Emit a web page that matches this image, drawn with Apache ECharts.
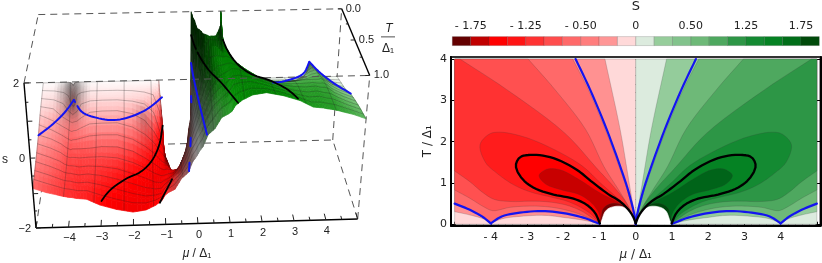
<!DOCTYPE html>
<html><head><meta charset="utf-8">
<style>html,body{margin:0;padding:0;background:#fff}#c{width:822px;height:263px}</style>
<script src="https://cdn.jsdelivr.net/npm/echarts@6/dist/echarts.min.js"></script>
</head><body><div id="c"></div>
<script>
// ---------- values ----------
const xTicks=[-4,-3,-2,-1,0,1,2,3,4];
const yTicks=[0,1,2,3,4];
const barLabels=['','- 1.75','','','- 1.25','','','- 0.50','','','0','','','0.50','','','1.25','','','1.75',''];
const barColors=['#640000','#c00000','#ff0000','#ff1414','#ff3232','#ff4d4d','#ff6969','#ff7d7d','#ff9696','#ffd9d9',
 '#dcebde','#96cd9b','#82c38c','#6eb978','#4ea85f','#2d9646','#148a32','#058223','#006e19','#004a0a'];
// contour lines on the negative side (mu, T); the positive side is the same with mu negated
const arm25=[[0,0],[-.05,.3],[-.2,1.1],[-.43,2.29],[-.85,4]];
const low25a=[[-5,.305],[-4.58,.225],[-4.21,.13],[-4,.02]];
const low25b=[[-4,.02],[-3.7,.13],[-3.2,.19],[-2.5,.215],[-1.95,.16],[-1.4,.09],[-1,.01]];
const arm50=[[0,0],[-.04,.2],[-.22,.79],[-.46,1.4],[-.84,2.29],[-1.31,3.26],[-1.74,4]];
const blueArm=[[0,0],[-.03,.2],[-.2,.79],[-.43,1.4],[-.8,2.29],[-1.26,3.26],[-1.66,4]];
const blueLowA=[[-5,.5],[-4.58,.35],[-4.21,.17],[-4,.02]];
const blueLowB=[[-4,.02],[-3.7,.19],[-3.2,.28],[-2.6,.32],[-2,.27],[-1.45,.16],[-1,.01]];
const arm75=[[0,0],[-.15,.35],[-.45,.8],[-.88,1.4],[-1.38,2.29],[-2.23,3.26],[-2.97,4]];
const low75=[[-5,.83],[-4.58,.63],[-4.21,.43],[-3.95,.33],[-3.47,.41],[-2.92,.44],[-2.4,.42],[-1.9,.34],[-1.5,.23],[-1.2,.11],[-1,.02]];
const arm100=[[0,0],[-.25,.5],[-.55,.85],[-1.08,1.36],[-1.95,2.2],[-3.56,3.26],[-4.85,4]];
const low100=[[-5,1.29],[-4.58,1.03],[-4.21,.76],[-3.9,.6],[-3.4,.55],[-2.9,.56],[-2.4,.54],[-1.9,.46],[-1.5,.32],[-1.2,.15],[-1,.02]];
const loop125=[[0,.02],[-.25,.42],[-.55,.67],[-.95,.98],[-1.49,1.42],[-2.37,1.86],[-3.1,2.12],[-3.75,2.23],[-4.05,2.18],[-4.3,1.92],[-4.15,1.5],[-3.84,1.24],[-3.38,.96],[-2.9,.78],[-2.4,.67],[-1.9,.56],[-1.5,.4],[-1.2,.22],[-1,.02]];
const blackLoop=[[0,.02],[-.07,.18],[-.2,.35],[-.43,.55],[-.76,.73],[-1.17,1],[-1.63,1.32],[-2.27,1.6],[-2.83,1.68],[-3.2,1.62],[-3.31,1.42],[-3.17,1.14],[-2.83,.89],[-2.27,.72],[-1.72,.62],[-1.35,.47],[-1.12,.27],[-.99,.02]];
const loop175=[[-.07,.15],[-.2,.3],[-.43,.5],[-.99,.76],[-1.54,1.07],[-2.09,1.32],[-2.46,1.33],[-2.67,1.18],[-2.5,.98],[-2.09,.84],[-1.54,.71],[-1.17,.47],[-.99,.2],[-.99,.02]];
const loop200=[[-.99,.02],[-.95,.2],[-.89,.39],[-.62,.51],[-.3,.43],[-.1,.2],[0,.02]];
const dome=[[-.98,0],[-.93,.12],[-.85,.3],[-.71,.4],[-.39,.43],[-.16,.3],[-.01,.05],[0,0]];
// surface s(mu,T) for mu<=0; the positive side is the same with s negated
const muGrid=[-5,-4.6,-4.3,-4.15,-4.05,-4,-3.95,-3.85,-3.7,-3.4,-3,-2.5,-2,-1.6,-1.3,-1.1,-1,-.9,-.7,-.5,-.3,-.15,-.05,0];
const tGrid=[0,.04,.08,.15,.25,.35,.5,.65,.8,1];
const sRows=[
[0,-.03,-.06,-.12,-.2,-.29,-.49,-.62,-.73,-.85],
[0,-.04,-.08,-.16,-.27,-.48,-.62,-.76,-.86,-.98],
[0,-.07,-.13,-.25,-.53,-.64,-.77,-.88,-.98,-1.05],
[0,-.1,-.22,-.49,-.62,-.72,-.88,-.98,-1.04,-1.09],
[-.02,-.2,-.5,-.58,-.68,-.78,-.93,-1.02,-1.06,-1.11],
[-.1,-.5,-.56,-.62,-.7,-.8,-.95,-1.03,-1.07,-1.12],
[-.02,-.35,-.51,-.58,-.68,-.78,-.93,-1.03,-1.07,-1.13],
[0,-.1,-.2,-.51,-.66,-.77,-.93,-1.04,-1.1,-1.14],
[0,-.07,-.14,-.27,-.56,-.71,-.93,-1.07,-1.13,-1.17],
[0,-.05,-.1,-.2,-.4,-.6,-.92,-1.05,-1.11,-1.2],
[0,-.05,-.1,-.19,-.37,-.59,-.88,-1.07,-1.18,-1.38],
[0,-.05,-.1,-.19,-.37,-.59,-.9,-1.14,-1.32,-1.52],
[0,-.06,-.12,-.23,-.47,-.74,-1.04,-1.3,-1.47,-1.61],
[0,-.08,-.17,-.3,-.68,-.97,-1.26,-1.45,-1.58,-1.56],
[0,-.12,-.25,-.54,-1.03,-1.22,-1.45,-1.59,-1.58,-1.43],
[0,-.3,-.75,-1.18,-1.37,-1.49,-1.59,-1.61,-1.55,-1.29],
[-1.36,-1.4,-1.43,-1.48,-1.52,-1.58,-1.63,-1.56,-1.4,-1.14],
[-6,-4,-3.2,-2.4,-1.93,-1.66,-1.61,-1.52,-1.32,-1.07],
[-8,-6,-5,-3.5,-2.6,-2.15,-1.65,-1.42,-1.14,-.98],
[-8,-7,-6,-4,-2.8,-2.2,-1.61,-1.14,-1,-.68],
[-9,-8,-6,-4,-2.8,-2.05,-1.11,-.75,-.62,-.52],
[-10,-8,-6,-4,-2.5,-.75,-.56,-.42,-.25,-.2],
[-10,-6,-3,-.8,-.4,-.25,-.17,-.12,-.1,-.08],
[0,0,0,0,0,0,0,0,0,0]];
const blackLevel=-1.36, blueLevel=-.5;
// ---------- helpers ----------
const smooth=run=>{const n=run.length;if(n<3)return run.slice();const o=[];
 const L=(A,B,t0,t1,t)=>[A[0]+(B[0]-A[0])*(t-t0)/(t1-t0),A[1]+(B[1]-A[1])*(t-t0)/(t1-t0)];
 const dist=(A,B)=>Math.max(Math.pow(Math.hypot(A[0]-B[0],A[1]-B[1]),.5),1e-4);
 for(let i=0;i<n-1;i++){const b=run[i],c=run[i+1];
  const a=i>0?run[i-1]:[2*b[0]-c[0],2*b[1]-c[1]],d=i<n-2?run[i+2]:[2*c[0]-b[0],2*c[1]-b[1]];
  const t0=0,t1=t0+dist(a,b),t2=t1+dist(b,c),t3=t2+dist(c,d);
  for(let k=0;k<6;k++){const t=t1+(t2-t1)*k/6;
   const A1=L(a,b,t0,t1,t),A2=L(b,c,t1,t2,t),A3=L(c,d,t2,t3,t),B1=L(A1,A2,t0,t2,t),B2=L(A2,A3,t1,t3,t);
   o.push(L(B1,B2,t1,t2,t));}}
 o.push(run[n-1]);return o;};
const flip=run=>run.map(p=>[-p[0],p[1]]);
const polyNeg=[
 {c:[255,145,145],p:[...smooth(arm25),[-5,4],...smooth(low25a),...smooth(low25b)]},
 {c:[255,105,105],p:[...smooth(arm50),[-5,4],...smooth(blueLowA),...smooth(blueLowB)]},
 {c:[255,80,80],p:[...smooth(arm75),[-5,4],...smooth(low75)]},
 {c:[255,50,50],p:[...smooth(arm100),[-5,4],...smooth(low100)]},
 {c:[255,28,28],p:smooth(loop125)},
 {c:[255,0,0],p:smooth(blackLoop)},
 {c:[200,0,0],p:smooth(loop175)},
 {c:[120,0,0],p:smooth(loop200)},
 {c:[255,255,255],p:smooth(dome),white:1}];
const greens=[[148,204,155],[110,185,120],[78,168,95],[45,150,70],[20,138,50],[5,130,35],[0,100,25],[0,70,12],[255,255,255]];
const polys=[
 {c:[255,217,217],p:[[-5,0],[-5,4],[0,4],[0,0]]},
 {c:[220,235,222],p:[[5,0],[5,4],[0,4],[0,0]]},
 ...polyNeg,
 ...polyNeg.map((q,i)=>({c:greens[i],white:q.white,p:flip(q.p)}))];
const curves2d=[blueLowA,blueLowB,blueArm,flip(blueLowA),flip(blueLowB),flip(blueArm)];
const blackCurves=[blackLoop,flip(blackLoop)];

// ---------- surface and projection ----------
const muAll=[...muGrid,...muGrid.slice(0,-1).reverse().map(m=>-m)];
const sAll=[...sRows,...sRows.slice(0,-1).reverse().map(r=>r.map(v=>-v))];
const NC=muAll.length,NR=tGrid.length;
function project(mu,T,s){const u=(mu+5)/10,v=1-T,z=(s+2)/4,w=1+.0137*u+.131*v-.07*z;
 return [(36+326.6*u+18.29*v-13.68*z)/w,(228-6*u-61.74*v-150.8*z)/w];}
function idx(a,x){let i=0;while(i<a.length-2&&x>a[i+1])i++;return i;}
function sAt(mu,T){const c=idx(muAll,mu),r=idx(tGrid,T),a=(mu-muAll[c])/(muAll[c+1]-muAll[c]),b=(T-tGrid[r])/(tGrid[r+1]-tGrid[r]);
 return (sAll[c][r]*(1-b)+sAll[c][r+1]*b)*(1-a)+(sAll[c+1][r]*(1-b)+sAll[c+1][r+1]*b)*a;}
const rawShade=sAll.map((row,c)=>row.map((v,r)=>{
 const c0=Math.max(c-1,0),c1=Math.min(c+1,NC-1),r0=Math.max(r-1,0),r1=Math.min(r+1,NR-1);
 const am=Math.abs(muAll[c]);const wt=(am>=1&&am<=1.3)?.05:1;
 const dm=(sAll[c1][r]-sAll[c0][r])/(muAll[c1]-muAll[c0])*wt,dt=(row[r1]-row[r0])/(tGrid[r1]-tGrid[r0])*.15*wt;
 return .3+.7/(1+1.2*Math.max(0,dm*dm+dt*dt-.5));}));
// the dip near |mu|=4 is a soft halo rather than a narrow crease
const shade=rawShade.map((row,c)=>row.map((v,r)=>{
 if(Math.abs(muAll[c])<3)return v;let d=0;
 for(let i=0;i<NC;i++){if(Math.abs(muAll[i])<3)continue;for(let j=0;j<NR;j++){
  const e=Math.exp(-Math.pow((muAll[i]-muAll[c])/.22,2)-Math.pow((tGrid[j]-tGrid[r])/.1,2));d=Math.max(d,(1-rawShade[i][j])*.8*e);}}
 return 1-d;}));
function shAt(c,r,a,b){return (shade[c][r]*(1-b)+shade[c][r+1]*b)*(1-a)+(shade[c+1][r]*(1-b)+shade[c+1][r+1]*b)*a;}
const ramps={neg:[[0,255,252,252],[.25,255,212,212],[.5,255,165,165],[.9,255,92,92],[1.2,255,30,30],[1.4,255,0,0],[1.7,235,0,0],[2,215,0,0]],
 pos:[[0,252,255,252],[.25,205,232,205],[.5,145,205,145],[.85,90,180,90],[1.1,40,155,40],[1.4,5,140,5],[2,0,105,0]]};
function col(s,sh){const R=s<0?ramps.neg:ramps.pos,x=Math.min(Math.abs(s),2);let i=0;while(i<R.length-2&&x>R[i+1][0])i++;
 const f=(x-R[i][0])/(R[i+1][0]-R[i][0]),g=j=>Math.round((R[i][j]+(R[i+1][j]-R[i][j])*f)*sh);return `rgb(${g(1)},${g(2)},${g(3)})`;}
function clipS(poly,lim,sign){const o=[];for(let i=0;i<poly.length;i++){const A=poly[i],B=poly[(i+1)%poly.length],ia=sign*A[2]<=lim,ib=sign*B[2]<=lim;
 if(ia)o.push(A);if(ia!==ib){const t=(sign*lim-A[2])/(B[2]-A[2]);o.push([A[0]+(B[0]-A[0])*t,A[1]+(B[1]-A[1])*t,sign*lim]);}}return o;}
const SUB=3;
function cellGroup(c,r,api){const kids=[];
 for(let i=0;i<SUB;i++)for(let j=0;j<SUB;j++){
  const P=(a,b)=>{const m=muAll[c]+(muAll[c+1]-muAll[c])*a,t=tGrid[r]+(tGrid[r+1]-tGrid[r])*b;
   return [m,t,(sAll[c][r]*(1-b)+sAll[c][r+1]*b)*(1-a)+(sAll[c+1][r]*(1-b)+sAll[c+1][r+1]*b)*a];};
  let q=[P(i/SUB,j/SUB),P((i+1)/SUB,j/SUB),P((i+1)/SUB,(j+1)/SUB),P(i/SUB,(j+1)/SUB)];
  q=clipS(clipS(q,2,1),2,-1);if(q.length<3)continue;
  const s=q.reduce((z,p)=>z+p[2],0)/q.length,cc=col(s,shAt(c,r,(i+.5)/SUB,(j+.5)/SUB));
  kids.push({type:'polygon',shape:{points:q.map(p=>api.coord(project(p[0],p[1],p[2])))},style:{fill:cc,stroke:cc,lineWidth:.7}});
 }
 return {type:'group',children:kids};}
const cells=[];const mid=muGrid.length-1;
for(let r=0;r<NR-1;r++){for(let c=0;c<mid;c++)cells.push([c,r]);for(let c=NC-2;c>=mid;c--)cells.push([c,r]);}
function hidden(mu,T,s){const P=project(mu,T,s);
 for(let t=T+.02;t<=1;t+=.02){let m=mu,Q=project(m,t,sAt(m,t));m=Math.max(-5,Math.min(5,mu+(P[0]-Q[0])/32));
  const v=sAt(m,t);if(Math.abs(v)>2)continue;Q=project(m,t,v);if(Q[1]<P[1]-2)return true;}
 return false;}
function runs3d(pts){const out=[];let cur=[];for(const p of pts){if(p===null||hidden(p[0],p[1],p[2])){if(cur.length>1)out.push(cur);cur=[];}else cur.push(project(p[0],p[1],p[2]));}
 if(cur.length>1)out.push(cur);return out;}
function meshRuns(){const res=[];const nMu=11,nT=12;
 const mk=a=>a.map(p=>{const s=sAt(p[0],p[1]);return Math.abs(s)>2?null:[p[0],p[1],s];});
 for(let k=0;k<=nMu;k++){const m=-5+k*10/nMu,a=[];for(let t=0;t<=50;t++)a.push([m,t/50]);res.push(...runs3d(mk(a)));}
 for(let k=0;k<nT;k++){const t=k/nT,a=[];for(let i=0;i<NC-1;i++)for(let j=0;j<3;j++)a.push([muAll[i]+(muAll[i+1]-muAll[i])*j/3,t]);a.push([5,t]);res.push(...runs3d(mk(a)));}
 return res;}
function curveRuns(list,level){const out=[];for(const run of list){const sign=run.reduce((z,p)=>z+p[0],0)>0?-1:1;
 const pts=smooth(run).filter(p=>p[1]<=1).map(p=>[p[0],p[1],level*sign]);out.push(...runs3d(pts));}return out;}
const meshLines=meshRuns(),blueLines=curveRuns(curves2d,blueLevel);
const blackLines=curveRuns([blackLoop.slice(4,7),blackLoop.slice(10),flip(blackLoop.slice(0,7)),flip(blackLoop.slice(10))],blackLevel);
// box
const C={A:[-5,1,-2],B:[5,1,-2],C:[5,0,-2],D:[-5,0,-2],E:[-5,1,2],F:[-5,0,2],G:[5,1,2],H:[5,0,2]};
const backEdges=['DC','AD','BC','CH','FH','EF','BG'],frontEdges=['EG'],solidEdges=['AB','AE','GH'];
const muLabels=[-4,-3,-2,-1,0,1,2,3,4],sLabels=[-2,0,2],tLabels=[0,.5,1];
const fullCanvas={coordinateSystem:'cartesian2d',xAxisIndex:0,yAxisIndex:0,silent:true,animation:false,progressive:0,clip:false};
const LF='"Liberation Sans",Arial,sans-serif',DF='"DejaVu Sans",sans-serif';
const lineEl=(a,b,api,st)=>({type:'line',shape:{x1:api.coord(a)[0],y1:api.coord(a)[1],x2:api.coord(b)[0],y2:api.coord(b)[1]},style:st});
const P3=n=>project(C[n][0],C[n][1],C[n][2]);
const dash={stroke:'#555',lineWidth:1,lineDash:[7,5]};
const txt=(x,y,t,align,size,fam)=>({type:'text',x,y,style:{text:t,fill:'#222',font:`${size}px ${fam}`,align,verticalAlign:'middle'}});
function boxBack(p,api){if(p.dataIndex)return;return {type:'group',children:backEdges.map(e=>lineEl(P3(e[0]),P3(e[1]),api,dash))};}
function polyL(run,api,st){return {type:'polyline',shape:{points:run.map(q=>api.coord(q))},style:Object.assign({fill:'none',lineJoin:'round',lineCap:'round'},st)};}
function overlay(p,api){if(p.dataIndex)return;const kids=[];
 meshLines.forEach(r=>kids.push(polyL(r,api,{stroke:'rgba(30,30,30,.45)',lineWidth:.6})));
 frontEdges.forEach(e=>kids.push(lineEl(P3(e[0]),P3(e[1]),api,dash)));
 blueLines.forEach(r=>kids.push(polyL(r,api,{stroke:'#1414f0',lineWidth:2})));
 blackLines.forEach(r=>kids.push(polyL(r,api,{stroke:'#000',lineWidth:1.8})));
 solidEdges.forEach(e=>kids.push(lineEl(P3(e[0]),P3(e[1]),api,{stroke:'#000',lineWidth:1.4})));
 const tk=(a,b)=>kids.push(lineEl(a,b,api,{stroke:'#222',lineWidth:1}));
 for(let m=-5;m<=5;m+=.5){const maj=Number.isInteger(m);tk(project(m,1,-2),project(m,maj?.93:.96,-2));}
 for(let s=-2;s<=2;s+=.5){const maj=Number.isInteger(s);tk(project(-5,1,s),project(maj?-4.85:-4.92,1,s));}
 for(let t=0;t<=1;t+=.25){tk(project(5,t,2),project(t%.5===0?4.87:4.93,t,2));}
 muLabels.forEach(m=>{const q=api.coord(project(m,1,-2));kids.push(txt(q[0]+1,q[1]+11,(m<0?'\u2212':'')+Math.abs(m),'center',11,LF));});
 sLabels.forEach(s=>{const q=api.coord(project(-5,1,s));kids.push(txt(q[0]-5,q[1]+1,(s<0?'\u2212':'')+Math.abs(s),'right',11,LF));});
 tLabels.forEach(t=>{const q=api.coord(project(5,t,2));kids.push(txt(q[0]+4,q[1],t.toFixed(1),'left',11,LF));});
 return {type:'group',children:kids};}
// ---------- option ----------
const pmTick=v=>v<0?'- '+Math.abs(v):String(v);
const seq=(a,b,st)=>{const o=[];for(let i=0;i<=Math.round((b-a)/st);i++)o.push(+(a+i*st).toFixed(2));return o;};
const frameBase={axisLine:{show:true,onZero:false,lineStyle:{color:'#000',width:2}},splitLine:{show:false}};
const minorTicksX=seq(-5,5,.2),minorTicksY=seq(0,4,.2);
const option={animation:false,backgroundColor:'#fff',
 grid:[{left:0,top:0,width:822,height:263,show:false,outerBoundsMode:'none'},
  {left:451,top:57,width:369.5,height:168.5,show:true,borderColor:'#333',borderWidth:2,backgroundColor:'#fff',containLabel:false,outerBoundsMode:'none'},
  {left:452.3,top:36.6,width:367,height:9,outerBoundsMode:'none'}],
 xAxis:[
  {gridIndex:0,type:'value',min:0,max:822,show:false},
  {gridIndex:1,type:'value',min:-5.1,max:5.1,position:'bottom',...frameBase,
   axisTick:{show:true,inside:true,length:5,lineStyle:{color:'#000',width:1},customValues:xTicks},
   axisLabel:{customValues:xTicks,formatter:pmTick,color:'#222',fontFamily:'DejaVu Sans',fontSize:11,margin:6},
   name:'{m|\u03bc} / \u0394\u2081',nameLocation:'middle',nameGap:23,
   nameTextStyle:{fontFamily:'DejaVu Sans',fontSize:12,color:'#222',rich:{m:{fontFamily:'DejaVu Sans',fontSize:12,fontStyle:'italic',color:'#222'}}}},
  {gridIndex:1,type:'value',min:-5.1,max:5.1,position:'bottom',axisLine:{show:false},splitLine:{show:false},
   axisTick:{show:true,inside:true,length:2.5,lineStyle:{color:'#000',width:1},customValues:minorTicksX},axisLabel:{show:false}},
  {gridIndex:2,type:'value',min:0,max:20,interval:1,position:'top',axisLine:{show:false},axisTick:{show:false},splitLine:{show:false},
   axisLabel:{formatter:v=>barLabels[v]||'',color:'#222',fontFamily:'DejaVu Sans',fontSize:11,margin:5,hideOverlap:false,showMinLabel:true,showMaxLabel:true}}],
 yAxis:[
  {gridIndex:0,type:'value',min:0,max:263,inverse:true,show:false},
  {gridIndex:1,type:'value',min:-.03,max:4.05,position:'left',...frameBase,
   axisTick:{show:true,inside:true,length:5,lineStyle:{color:'#000',width:1},customValues:yTicks},
   axisLabel:{customValues:yTicks,color:'#222',fontFamily:'DejaVu Sans',fontSize:11,margin:4},
   name:'T / \u0394\u2081',nameLocation:'middle',nameGap:17,nameTextStyle:{fontFamily:'DejaVu Sans',fontSize:12,color:'#222'}},
  {gridIndex:1,type:'value',min:-.03,max:4.05,position:'left',axisLine:{show:false},splitLine:{show:false},
   axisTick:{show:true,inside:true,length:2.5,lineStyle:{color:'#000',width:1},customValues:minorTicksY},axisLabel:{show:false}},
  {gridIndex:1,type:'value',min:-.03,max:4.05,position:'right',...frameBase,
   axisTick:{show:true,inside:true,length:5,lineStyle:{color:'#000',width:1},customValues:yTicks},axisLabel:{show:false}},
  {gridIndex:1,type:'value',min:-.03,max:4.05,position:'right',axisLine:{show:false},splitLine:{show:false},
   axisTick:{show:true,inside:true,length:2.5,lineStyle:{color:'#000',width:1},customValues:minorTicksY},axisLabel:{show:false}},
  {gridIndex:2,type:'value',min:0,max:1,show:false}],
 graphic:[
  {type:'text',x:636,y:7,style:{text:'S',font:'13px "DejaVu Sans"',fill:'#222',align:'center',verticalAlign:'middle'}},
  {type:'text',x:5,y:160,style:{text:'s',font:'12px "Liberation Sans"',fill:'#222',align:'center',verticalAlign:'middle'}},
  {type:'text',x:197,y:254,style:{rich:{m:{font:'italic 12px "Liberation Sans"',fill:'#222'},n:{font:'12px "Liberation Sans"',fill:'#222'}},text:'{m|\u03bc} {n|/ \u0394\u2081}',align:'center',verticalAlign:'middle'}},
  {type:'text',x:389,y:29,style:{text:'T',font:'italic 12px "Liberation Sans"',fill:'#222',align:'center',verticalAlign:'middle'}},
  {type:'rect',shape:{x:381,y:36.5,width:14,height:.8},style:{fill:'#222'}},
  {type:'text',x:388,y:49,style:{text:'\u0394\u2081',font:'12px "Liberation Sans"',fill:'#222',align:'center',verticalAlign:'middle'}}],
 series:[
  {...fullCanvas,type:'custom',z:1,data:[[0,0]],renderItem:boxBack},
  {...fullCanvas,type:'custom',z:2,data:cells,renderItem:(p,api)=>{const q=cells[p.dataIndex];return cellGroup(q[0],q[1],api);}},
  {...fullCanvas,type:'custom',z:3,data:[[0,0]],renderItem:overlay},
  {type:'custom',coordinateSystem:'cartesian2d',xAxisIndex:1,yAxisIndex:1,silent:true,animation:false,z:2,clip:false,
   data:polys.map((_,i)=>[i,0]),
   renderItem:(p,api)=>{const q=polys[p.dataIndex];const cc=`rgb(${q.c.join(',')})`;
    return {type:'polygon',shape:{points:q.p.map(v=>api.coord(v))},style:{fill:cc,stroke:q.white?'#fff':'rgba(60,60,60,.35)',lineWidth:.6}};}},
  ...[...curves2d.map(r=>[r,'#1414f0',2.2]),...blackCurves.map(r=>[r,'#000',2.3])].map(([r,c,w])=>({
   type:'line',xAxisIndex:1,yAxisIndex:1,silent:true,animation:false,z:4,showSymbol:false,symbol:'none',
   data:smooth(r),lineStyle:{color:c,width:w,cap:'round',join:'round'}})),
  {type:'custom',coordinateSystem:'cartesian2d',xAxisIndex:3,yAxisIndex:5,silent:true,animation:false,
   data:barColors.map((_,i)=>[i,0]),
   renderItem:(p,api)=>{const a=api.coord([p.dataIndex,1]),b=api.coord([p.dataIndex+1,0]);
    return {type:'rect',shape:{x:a[0],y:a[1],width:b[0]-a[0],height:b[1]-a[1]},style:{fill:barColors[p.dataIndex],stroke:'rgba(60,60,60,.4)',lineWidth:.5}};}}
 ]};
const chart=echarts.init(document.getElementById('c'),null,{renderer:'canvas'});
chart.setOption(option);
</script></body></html>
